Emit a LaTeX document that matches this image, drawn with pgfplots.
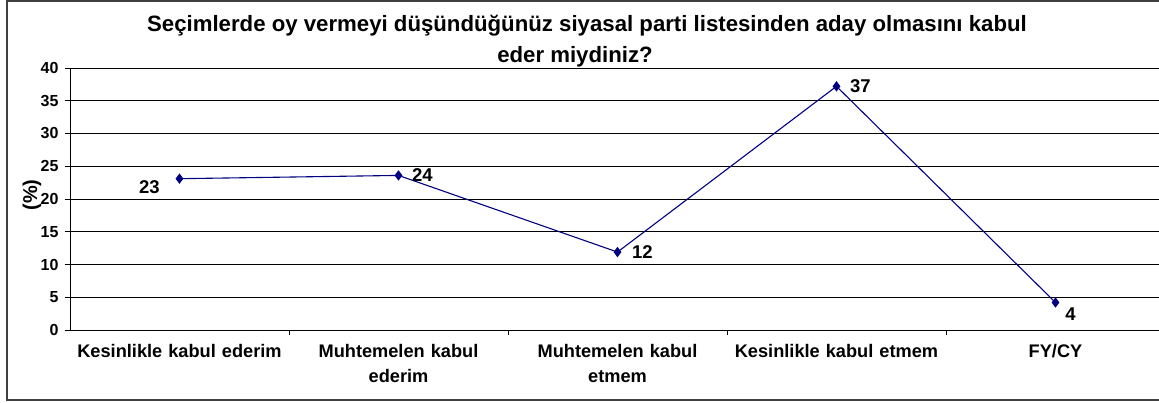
\documentclass[border=0pt]{standalone}
\usepackage{fontspec}
\setmainfont{Liberation Sans}
\usepackage{pgfplots}
\pgfplotsset{compat=1.18}
\definecolor{navyline}{RGB}{0,0,128}
\definecolor{framegray}{RGB}{64,64,64}

\pgfplotstableread{
x y lab dx dy
1 23.1 23 -30 -8
2 23.6 24 24 0
3 11.9 12 25 0
4 37.2 37 24 0
5 4.2 4 15 -12
}\answers

\begin{document}
\begin{tikzpicture}[x=1pt,y=1pt]
\path[use as bounding box] (-70,-72) rectangle (1089,330);
\clip (-70,-72) rectangle (1089,330);
\draw[line width=1.5pt, framegray] (-63,-70) rectangle (1115,329);

\begin{axis}[
  at={(0,0)}, anchor=south west,
  scale only axis, width=1095pt, height=262pt,
  xmin=0.5, xmax=5.5, ymin=0, ymax=40,
  axis x line*=bottom, axis y line*=left,
  axis line style={-, line width=0.8pt, black},
  xtick={1,2,3,4,5},
  xticklabels={Kesinlikle kabul ederim, {Muhtemelen kabul\\ederim}, {Muhtemelen kabul\\etmem}, Kesinlikle kabul etmem, FY/CY},
  xtick style={draw=none},
  extra x ticks={1.5,2.5,3.5,4.5},
  extra x tick labels={},
  extra x tick style={xtick style={draw=black, line width=0.8pt}},
  ytick={0,5,...,40},
  ymajorgrids,
  grid style={black, line width=0.7pt},
  tick align=outside,
  major tick length=5pt,
  ytick style={black, line width=0.8pt},
  /pgf/number format/assume math mode=true,
  yticklabel style={font=\fontsize{16}{16}\selectfont\bfseries, xshift=-3pt},
  xticklabel style={font=\fontsize{18.2}{25}\selectfont\bfseries, align=center, text width=220pt, yshift=-6pt},
  ylabel={(\%)},
  ylabel style={font=\fontsize{20}{20}\selectfont\bfseries, at={(axis description cs:-0.0347,0.515)}, anchor=center},
]
\addplot[navyline, line width=1.1pt, mark=diamond*, mark size=4.3pt,
  nodes near coords, point meta=explicit symbolic,
  visualization depends on={\thisrow{dx}\as\dx},
  visualization depends on={\thisrow{dy}\as\dy},
  every node near coord/.append style={font=\fontsize{18.5}{18.5}\selectfont\bfseries, black, anchor=center, xshift=\dx pt, yshift=\dy pt}]
  table[x=x, y=y, meta=lab] {\answers};
\end{axis}

\node[anchor=base, font=\fontsize{22.2}{22.2}\selectfont\bfseries] at (517,298.3)
  {Seçimlerde oy vermeyi düşündüğünüz siyasal parti listesinden aday olmasını kabul};
\node[anchor=base, font=\fontsize{22.2}{22.2}\selectfont\bfseries] at (505,267)
  {eder miydiniz?};
\end{tikzpicture}
\end{document}
